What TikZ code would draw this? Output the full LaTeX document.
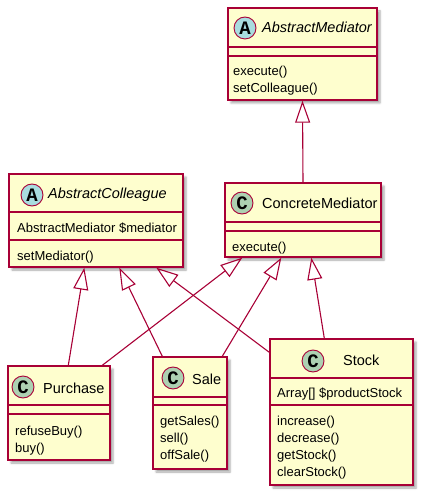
\documentclass[tikz,border=0pt]{standalone}
\usepackage{fontspec}
\setmainfont{Liberation Sans}
\newfontfamily\fuenteIcono{Liberation Mono}
\definecolor{umlRojo}{HTML}{A80036}
\definecolor{umlFondo}{HTML}{FEFECE}
\definecolor{umlAbstracto}{HTML}{A9DCDF}
\definecolor{umlConcreto}{HTML}{ADD1B2}
\usetikzlibrary{
	arrows.meta,
	shadows.blur
}
\tikzset{
	cajaClase/.style={
		draw=umlRojo,
		line width=1.4pt,
		fill=umlFondo,
		inner sep=0pt,
		blur shadow={shadow xshift=3pt, shadow yshift=-3pt, shadow blur radius=2pt, shadow opacity=35}
	},
	lineaSep/.style={
		draw=umlRojo,
		line width=1.2pt
	},
	iconoClase/.style={
		circle,
		draw=umlRojo,
		line width=0.9pt,
		minimum size=22pt,
		inner sep=0pt,
		font=\fuenteIcono\bfseries\fontsize{19}{19}\selectfont
	},
	iconoA/.style={iconoClase, fill=umlAbstracto},
	iconoC/.style={iconoClase, fill=umlConcreto},
	nombreClase/.style={
		anchor=base west,
		inner sep=0pt,
		font=\fontsize{14.5}{17}\selectfont
	},
	nombreAbstracto/.style={
		nombreClase,
		font=\fontsize{14.5}{17}\selectfont\itshape
	},
	miembro/.style={
		anchor=base west,
		inner sep=0pt,
		font=\fontsize{13}{15}\selectfont
	},
	herencia/.style={
		-{Triangle[open, length=22pt, width=15pt]},
		draw=umlRojo,
		line width=1.1pt
	}
}

\begin{document}
\begin{tikzpicture}[x=1pt, y=-1pt]
	\useasboundingbox (0,0) rectangle (428,502);
	% cajas: nombre/izq/arriba/der/abajo/linea1/linea2
	\foreach \nom/\l/\t/\r/\b/\ha/\hb in {abstractMediator/228/8/377/100/47/56,abstractColleague/9/174/183/267/212/240,concreteMediator/225/183/381/257/222/231,purchase/8/366/110/460/405/414,sale/153/357/227/469/397/405,stock/270/339/413/485/378/405}{
		\node[cajaClase, minimum width=\r-\l, minimum height=\b-\t] (\nom) at ({(\l+\r)/2},{(\t+\b)/2}) {};
		\draw[lineaSep] (\nom.west |- 0,\ha) -- (\nom.east |- 0,\ha);
		\draw[lineaSep] (\nom.west |- 0,\hb) -- (\nom.east |- 0,\hb);
	}
	% iconos y nombres
	\node[iconoA] (iconoAM) at (245,28) {A};
	\node[nombreAbstracto] (nombreAM) at (262,33) {AbstractMediator};
	\node[iconoA] (iconoAC) at (32,195) {A};
	\node[nombreAbstracto] (nombreAC) at (48,199) {AbstractColleague};
	\node[iconoC] (iconoCM) at (242,203) {C};
	\node[nombreClase] (nombreCM) at (262,209) {ConcreteMediator};
	\node[iconoC] (iconoPu) at (23,387) {C};
	\node[nombreClase] (nombrePu) at (43,393) {Purchase};
	\node[iconoC] (iconoSa) at (173,378) {C};
	\node[nombreClase] (nombreSa) at (192,384) {Sale};
	\node[iconoC] (iconoSt) at (313,361) {C};
	\node[nombreClase] (nombreSt) at (343,365) {Stock};
	% atributos y metodos
	\foreach \x/\y/\txt in {233/76/execute(),233/93/setColleague(),17/233/AbstractMediator \$mediator,17/260/setMediator(),232/251/execute(),15/435/refuseBuy(),15/452/buy(),160/425/getSales(),160/442/sell(),160/459/offSale(),277/397/Array[] \$productStock,277/425/increase(),277/442/decrease(),277/459/getStock(),277/476/clearStock()}{
		\node[miembro] (m-\x-\y) at (\x,\y) {\txt};
	}
	% herencia
	\draw[herencia] (concreteMediator.north) -- (abstractMediator.south);
	\draw[herencia] ([xshift=61pt]purchase.north west) -- ([xshift=76pt]abstractColleague.south west);
	\draw[herencia] ([xshift=10pt]sale.north west) -- ([xshift=111pt]abstractColleague.south west);
	\draw[herencia] ([yshift=-14pt]stock.north west) -- ([xshift=148pt]abstractColleague.south west);
	\draw[herencia] ([xshift=95pt]purchase.north west) -- ([xshift=18pt]concreteMediator.south west);
	\draw[herencia] ([xshift=70pt]sale.north west) -- ([xshift=57pt]concreteMediator.south west);
	\draw[herencia] ([xshift=55pt]stock.north west) -- ([xshift=87pt]concreteMediator.south west);
\end{tikzpicture}
\end{document}
